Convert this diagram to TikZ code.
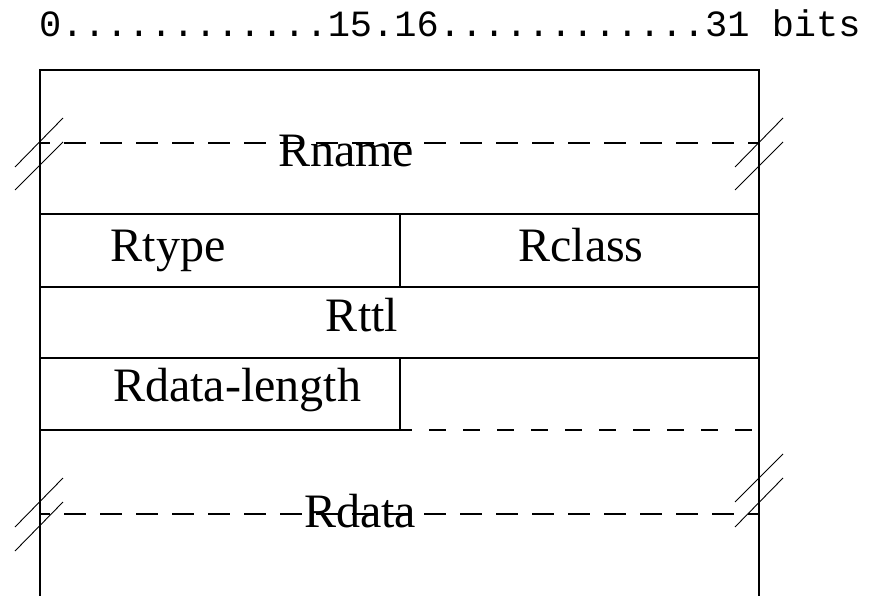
\documentclass[tikz,border=0pt]{standalone}
\usepackage{fontspec}
\setmainfont{Liberation Serif}
\setmonofont{Liberation Mono}
\begin{document}
\begin{tikzpicture}[x=1pt,y=-1pt,
  frame/.style={line width=1.1pt},
  dashline/.style={line width=1.1pt, dash pattern=on 22pt off 14pt, dash phase=12pt},
  shortdash/.style={line width=1.1pt, dash pattern=on 17pt off 17pt, dash phase=5pt},
  slash/.style={line width=0.9pt},
  lbl/.style={font=\fontsize{48}{48}\selectfont, anchor=base, inner sep=0pt},
  hdr/.style={font=\ttfamily\fontsize{37}{37}\selectfont, anchor=base west, inner sep=0pt}]
\useasboundingbox (0,0) rectangle (871,596);

% header
\node[hdr] (bits) at (39,37) {0............15.16............31 bits};

% frame coordinates
\coordinate (tl) at (40,70);
\coordinate (tr) at (759,70);
\coordinate (bl) at (40,596);
\coordinate (br) at (759,596);

\draw[frame] (bl) -- (tl) -- (tr) -- (br);
\draw[frame] (40,214) -- (759,214);
\draw[frame] (40,287) -- (759,287);
\draw[frame] (40,358) -- (759,358);
\draw[frame] (40,430) -- (400,430);
\draw[frame] (400,214) -- (400,287);
\draw[frame] (400,358) -- (400,430);
\draw[shortdash] (400,430) -- (759,430);

% Rname dashed line and break marks
\draw[dashline] (40,143) -- (759,143);
\draw[slash] (15,167) -- (63,118);
\draw[slash] (15,190) -- (63,142);
\draw[slash] (735,167) -- (783,118);
\draw[slash] (735,190) -- (783,142);

% Rdata dashed line and break marks
\draw[dashline] (40,514) -- (759,514);
\draw[slash] (15,527) -- (63,478);
\draw[slash] (15,551) -- (63,502);
\draw[slash] (735,502) -- (783,454);
\draw[slash] (735,527) -- (783,478);

% labels
\node[lbl] (rname) at (346,167) {Rname};
\node[lbl] (rtype) at (168,262) {Rtype};
\node[lbl] (rclass) at (581,262) {Rclass};
\node[lbl] (rttl) at (362,332) {Rttl};
\node[lbl] (rdlen) at (237,402) {Rdata-length};
\node[lbl] (rdata) at (360,527) {Rdata};
\end{tikzpicture}
\end{document}
